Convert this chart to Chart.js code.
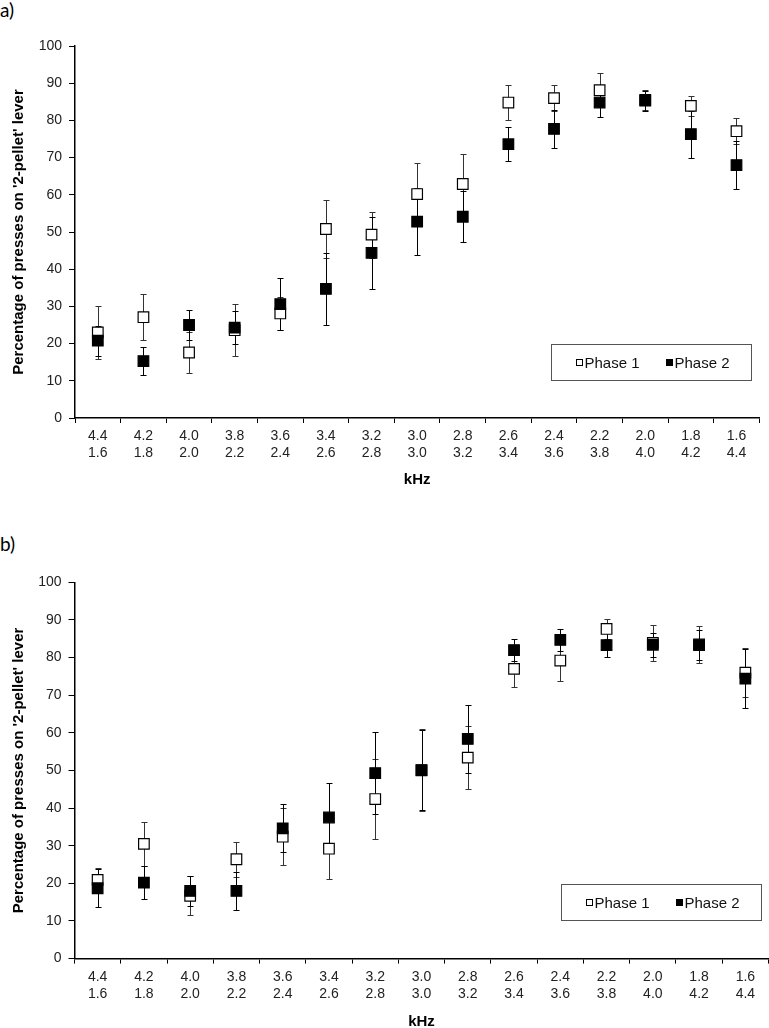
<!DOCTYPE html>
<html>
<head>
<meta charset="utf-8">
<script src="https://cdn.jsdelivr.net/npm/chart.js@4.4.0/dist/chart.umd.min.js"></script>
<style>
  html, body { margin: 0; padding: 0; background: #fff; overflow: hidden; }
  body { width: 769px; height: 1028px; position: relative; }
  canvas { position: absolute; left: 0; }
  .panel { position: absolute; left: 0; font: 19px Lato, "Open Sans", sans-serif; color: #000; }
</style>
</head>
<body>
<div class="panel" style="top:-2px">a)</div>
<canvas id="chartA" width="769" height="500" style="top:0"></canvas>
<div class="panel" style="top:532px">b)</div>
<canvas id="chartB" width="769" height="528" style="top:500px"></canvas>

<script>
// categorias do eixo x (duas linhas de kHz)
const kHzTop = ['4.4', '4.2', '4.0', '3.8', '3.6', '3.4', '3.2', '3.0', '2.8', '2.6', '2.4', '2.2', '2.0', '1.8', '1.6'];
const kHzBottom = ['1.6', '1.8', '2.0', '2.2', '2.4', '2.6', '2.8', '3.0', '3.2', '3.4', '3.6', '3.8', '4.0', '4.2', '4.4'];
const yTicks = [0, 10, 20, 30, 40, 50, 60, 70, 80, 90, 100];

// painel a)
const aPhase1 = [23.0, 27.1, 17.6, 23.6, 28.1, 50.8, 49.3, 60.2, 62.9, 84.8, 86.0, 88.1, 85.5, 83.9, 77.1];
const aPhase1Err = [7.1, 6.1, 5.4, 7.0, 4.5, 7.8, 6.2, 8.3, 8.1, 4.6, 3.5, 4.6, 2.8, 2.7, 3.5];
const aPhase2 = [20.8, 15.3, 25.0, 24.3, 30.6, 34.7, 44.4, 52.8, 54.1, 73.6, 77.7, 84.8, 85.3, 76.3, 68.0];
const aPhase2Err = [4.0, 3.8, 4.0, 4.4, 7.0, 9.6, 9.6, 9.0, 6.8, 4.5, 5.0, 3.9, 2.7, 6.3, 6.5];

// painel b)
const bPhase1 = [20.9, 30.5, 16.7, 26.4, 32.4, 29.2, 42.4, 50.0, 53.4, 77.0, 79.2, 87.6, 83.9, 83.5, 76.0];
const bPhase1Err = [3.2, 5.8, 5.2, 4.6, 7.5, 8.1, 10.7, 10.9, 8.4, 4.7, 5.5, 2.6, 4.7, 4.9, 6.6];
const bPhase2 = [18.7, 20.2, 18.0, 18.0, 34.6, 37.5, 49.3, 50.1, 58.4, 82.0, 84.7, 83.3, 83.4, 83.3, 74.4];
const bPhase2Err = [5.0, 4.4, 3.9, 5.0, 6.4, 9.2, 11.0, 10.6, 9.0, 2.9, 3.0, 3.1, 3.2, 4.0, 7.9];

const labels = kHzTop.map((t, i) => [t, kHzBottom[i]]);

// barras de erro desenhadas pelas escalas
const errorBars = {
    id: 'errorBars',
    beforeDatasetsDraw(chart) {
        const ctx = chart.ctx;
        const y = chart.scales.y;
        ctx.save();
        chart.data.datasets.forEach((ds, i) => {
            const meta = chart.getDatasetMeta(i);
            ctx.strokeStyle = ds.errorColor;
            ctx.lineWidth = 1;
            meta.data.forEach((pt, j) => {
                const v = ds.data[j], e = ds.errors[j];
                const top = Math.round(y.getPixelForValue(v + e)) + 0.5;
                const bot = Math.round(y.getPixelForValue(v - e)) + 0.5;
                const px = Math.round(pt.x) + 0.5;
                ctx.beginPath();
                ctx.moveTo(px, top); ctx.lineTo(px, bot);
                ctx.moveTo(px - 3, top); ctx.lineTo(px + 3, top);
                ctx.moveTo(px - 3, bot); ctx.lineTo(px + 3, bot);
                ctx.stroke();
            });
        });
        ctx.restore();
    }
};

// legenda em caixa dentro da área do gráfico
const boxLegend = {
    id: 'boxLegend',
    afterDraw(chart) {
        const ctx = chart.ctx;
        const area = chart.chartArea;
        const w = 200, h = 36;
        const x0 = Math.round(area.right - 8 - w) + 0.5;
        const y0 = Math.round(area.bottom - 38.5 - h) + 0.5;
        ctx.save();
        ctx.fillStyle = '#fff';
        ctx.fillRect(x0, y0, w, h);
        ctx.strokeStyle = '#555';
        ctx.lineWidth = 1;
        ctx.strokeRect(x0, y0, w, h);
        ctx.font = '15px "Liberation Sans", Arial, sans-serif';
        ctx.textBaseline = 'middle';
        ctx.fillStyle = '#111';
        const cy = y0 + h / 2;
        const items = [
            { text: 'Phase 1', x: x0 + 24, fill: '#fff' },
            { text: 'Phase 2', x: x0 + 114, fill: '#000' }
        ];
        items.forEach(it => {
            ctx.fillStyle = it.fill;
            ctx.fillRect(Math.round(it.x), Math.round(cy - 3.5), 7, 7);
            ctx.strokeStyle = '#000';
            ctx.strokeRect(Math.round(it.x) + 0.5, Math.round(cy - 3.5) + 0.5, 6, 6);
            ctx.fillStyle = '#111';
            ctx.fillText(it.text, it.x + 9, cy + 1);
        });
        ctx.restore();
    }
};

function criarGrafico(id, p1, e1, p2, e2, cfg) {
    const ctx = document.getElementById(id).getContext('2d');
    return new Chart(ctx, {
        type: 'line',
        data: {
            labels: labels,
            datasets: [{
                label: 'Phase 1',
                data: p1,
                errors: e1,
                errorColor: '#333',
                showLine: false,
                pointStyle: 'rect',
                pointRadius: 7.5,
                pointBackgroundColor: '#fff',
                pointBorderColor: '#000',
                pointBorderWidth: 1.2,
                order: 1
            }, {
                label: 'Phase 2',
                data: p2,
                errors: e2,
                errorColor: '#000',
                showLine: false,
                pointStyle: 'rect',
                pointRadius: 7.5,
                pointBackgroundColor: '#000',
                pointBorderColor: '#000',
                pointBorderWidth: 1.2,
                order: 0
            }]
        },
        options: {
            responsive: false,
            animation: false,
            layout: {
                autoPadding: false,
                padding: { left: 0, top: cfg.top, right: cfg.right, bottom: 0 }
            },
            plugins: {
                legend: { display: false },
                tooltip: { enabled: false }
            },
            scales: {
                x: {
                    offset: true,
                    grid: { offset: true, drawOnChartArea: false, tickLength: 5, color: '#000' },
                    border: { color: '#000', width: 1.5 },
                    ticks: {
                        autoSkip: false,
                        maxRotation: 0,
                        padding: 5,
                        color: '#222',
                        font: { family: '"Liberation Sans", Arial, sans-serif', size: 14, lineHeight: 1.2 }
                    },
                    title: {
                        display: true,
                        text: 'kHz',
                        color: '#000',
                        padding: { top: 0, bottom: cfg.titlePad },
                        font: { family: '"Liberation Sans", Arial, sans-serif', size: 15, weight: 'bold', lineHeight: 1.2 }
                    },
                    afterFit(scale) { scale.height = cfg.xHeight; }
                },
                y: {
                    min: 0,
                    max: 100,
                    afterBuildTicks(scale) { scale.ticks = yTicks.map(v => ({ value: v })); },
                    grid: { drawOnChartArea: false, tickLength: 6, color: '#000' },
                    border: { color: '#000', width: 1.5 },
                    ticks: {
                        padding: 7,
                        color: '#222',
                        font: { family: '"Liberation Sans", Arial, sans-serif', size: 14 }
                    },
                    title: {
                        display: true,
                        text: "Percentage of presses on '2-pellet' lever",
                        color: '#000',
                        padding: { top: 10, bottom: 0 },
                        font: { family: '"Liberation Sans", Arial, sans-serif', size: 15, weight: 'bold', lineHeight: 1.2 }
                    },
                    afterFit(scale) { scale.width = cfg.yWidth; }
                }
            }
        },
        plugins: [errorBars, boxLegend]
    });
}

criarGrafico('chartA', aPhase1, aPhase1Err, aPhase2, aPhase2Err,
    { top: 46, right: 9.7, xHeight: 82, yWidth: 75, titlePad: 11 });
criarGrafico('chartB', bPhase1, bPhase1Err, bPhase2, bPhase2Err,
    { top: 82.3, right: 0.5, xHeight: 69.4, yWidth: 74.5, titlePad: -2.7 });
</script>
</body>
</html>
